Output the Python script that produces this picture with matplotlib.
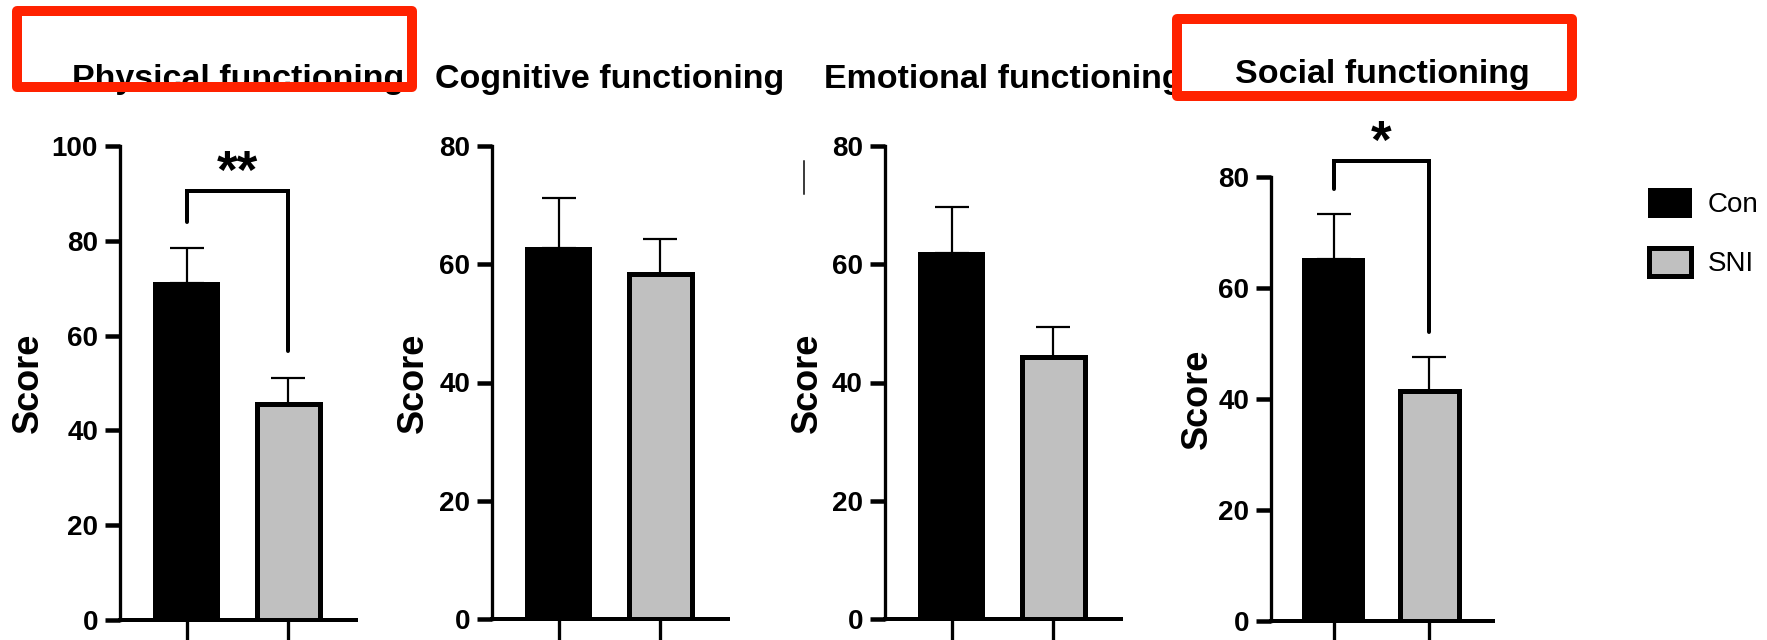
#!/usr/bin/env python3
import matplotlib
matplotlib.use("Agg")
import matplotlib.pyplot as plt
from matplotlib import font_manager
from matplotlib.patches import Rectangle
from matplotlib.lines import Line2D

# ======== Data ========
PANEL_TITLES = ["Physical functioning", "Cognitive functioning",
                "Emotional functioning", "Social functioning"]
GROUPS = ["Con", "SNI"]
CON_MEAN = [71.2, 62.8, 61.9, 65.2]
CON_SEM = [7.2, 8.4, 7.7, 8.1]
SNI_MEAN = [45.6, 58.4, 44.3, 41.5]
SNI_SEM = [5.4, 5.9, 5.1, 6.1]
Y_MAX = [100, 80, 80, 80]
Y_STEP = [20, 20, 20, 20]

# significance brackets: label, top, left leg end, right leg end
SIG_LABEL = ["**", None, None, "*"]
SIG_TOP = [90.5, None, None, 82.9]
SIG_LEFT = [84.0, None, None, 77.8]
SIG_RIGHT = [56.7, None, None, 52.1]

# ======== Layout (pixels of the 1767x640 canvas) ========
W, H = 1767, 640
AX_BOX = [(120, 356, 146, 620), (492, 728, 146, 619),
          (885, 1121, 146, 619), (1271, 1493, 177, 621)]
SCORE_XY = [(28, 383), (413, 383), (807, 383), (1197, 399)]
TITLE_BASE = [88, 88, 88, 83]

CON_COLOR = "black"
SNI_COLOR = "#C0C0C0"
RED = "#FF2200"

# a narrow face if one is installed, otherwise plain Liberation Sans at smaller sizes
names = {f.name for f in font_manager.fontManager.ttflist}
narrow = [n for n in names if "Narrow" in n or "Condensed" in n]
if "Liberation Sans Narrow" in narrow:
    NARROW, TITLE_SIZE, TICK_SIZE, LEG_SIZE = "Liberation Sans Narrow", 29, 24, 23
else:
    NARROW, TITLE_SIZE, TICK_SIZE, LEG_SIZE = "Liberation Sans", 24.5, 20, 20
WIDE = "Liberation Sans"


def px(v):
    # pixels -> points at dpi 100
    return v * 72 / 100


def draw_panel(fig, i):
    l, r, t, b = AX_BOX[i]
    ax = fig.add_axes([l / W, 1 - b / H, (r - l) / W, (b - t) / H])

    con = ax.bar(0, CON_MEAN[i], width=0.64, color=CON_COLOR,
                 edgecolor="black", linewidth=px(2), zorder=2, label=GROUPS[0])
    sni = ax.bar(1, SNI_MEAN[i], width=0.62, color=SNI_COLOR,
                 edgecolor="black", linewidth=px(5), zorder=2, label=GROUPS[1])
    ax.errorbar([0, 1], [CON_MEAN[i], SNI_MEAN[i]],
                yerr=[[0, 0], [CON_SEM[i], SNI_SEM[i]]],
                fmt="none", ecolor="black", elinewidth=px(2.2),
                capsize=px(17), capthick=px(2.2), zorder=1)

    ax.set_xlim(-0.66, 1.67)
    ax.set_ylim(0, Y_MAX[i])
    ax.set_yticks(range(0, Y_MAX[i] + 1, Y_STEP[i]))
    ax.set_xticks([0, 1])
    ax.set_xticklabels([])
    for s in ["top", "right"]:
        ax.spines[s].set_visible(False)
    ax.spines["left"].set_linewidth(px(3.3))
    ax.spines["bottom"].set_linewidth(px(4))
    ax.tick_params(axis="y", length=px(15), width=px(4.5), pad=px(7),
                   labelsize=TICK_SIZE)
    ax.tick_params(axis="x", length=px(24), width=px(3.3))
    for lab in ax.get_yticklabels():
        lab.set_fontfamily(NARROW)
        lab.set_fontweight("bold")

    if SIG_LABEL[i]:
        top = SIG_TOP[i]
        ax.plot([0, 0, 1, 1], [SIG_LEFT[i], top, top, SIG_RIGHT[i]],
                color="black", lw=px(4), clip_on=False,
                solid_joinstyle="miter", solid_capstyle="round")
        ax.annotate(SIG_LABEL[i], xy=(0.5, top), xytext=(0, 2),
                    textcoords="offset points", ha="center", va="baseline",
                    fontsize=38, fontweight="bold", family=WIDE,
                    annotation_clip=False)

    fig.text((l + r) / 2 / W, 1 - TITLE_BASE[i] / H, PANEL_TITLES[i],
             ha="center", va="baseline", fontsize=TITLE_SIZE, fontweight="bold",
             family=NARROW)
    sx, sy = SCORE_XY[i]
    fig.text(sx / W, 1 - sy / H, "Score", rotation=90, ha="center",
             va="center", fontsize=26, fontweight="bold", family=WIDE)
    return con, sni


def red_box(fig, x0, y0, x1, y1):
    rect = Rectangle((x0 / W, 1 - y1 / H), (x1 - x0) / W, (y1 - y0) / H,
                     transform=fig.transFigure, fill=False, edgecolor=RED,
                     linewidth=px(10), joinstyle="round", zorder=10)
    fig.add_artist(rect)


def main():
    fig = plt.figure(figsize=(W / 100, H / 100), dpi=100)

    handles = None
    for i in range(len(PANEL_TITLES)):
        handles = draw_panel(fig, i)

    fs_px = LEG_SIZE * 100 / 72
    fig.legend(handles, GROUPS, loc="upper left",
               bbox_to_anchor=(1649 / W, 1 - 189 / H), frameon=False,
               prop={"family": NARROW, "size": LEG_SIZE},
               handlelength=42 / fs_px, handleheight=32 / fs_px,
               handletextpad=17 / fs_px,
               labelspacing=(62 - 1.15 * fs_px) / fs_px,
               borderpad=0, borderaxespad=0)

    # highlight boxes
    red_box(fig, 17, 11, 412, 87)
    red_box(fig, 1177, 19, 1572, 96)

    # small stray mark between panels 2 and 3
    fig.add_artist(Line2D([804 / W, 804 / W], [1 - 161 / H, 1 - 194 / H],
                          transform=fig.transFigure, color="black", lw=px(1.5)))

    fig.savefig("out.png", dpi=100)


if __name__ == "__main__":
    main()
